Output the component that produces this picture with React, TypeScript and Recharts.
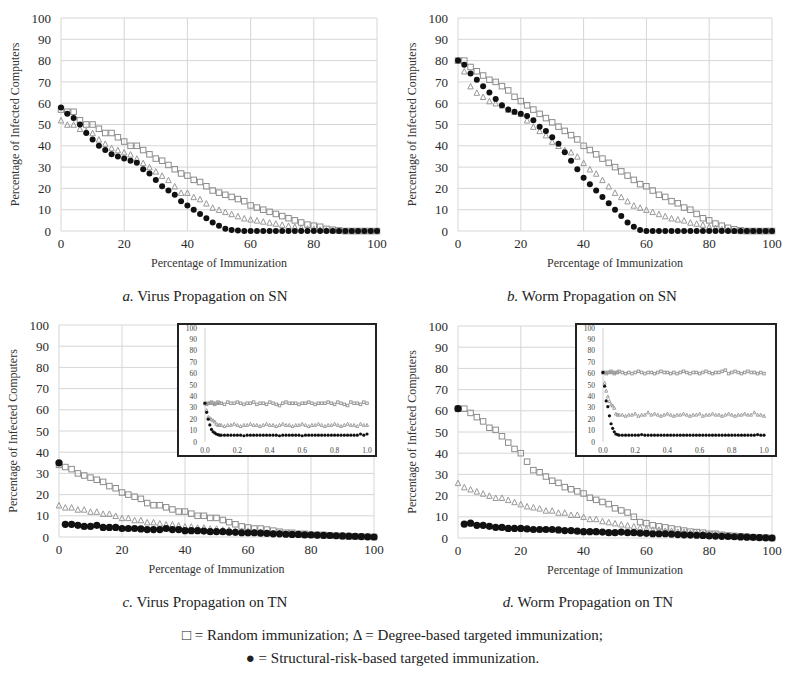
import { ScatterChart, Scatter, XAxis, YAxis, CartesianGrid } from 'recharts';

const FONT = '"Liberation Serif", "Times New Roman", serif';

// x positions, % of immunization
const IMMUNIZATION = [0, 2, 4, 6, 8, 10, 12, 14, 16, 18, 20, 22, 24, 26, 28, 30, 32, 34, 36, 38, 40, 42, 44, 46, 48, 50, 52, 54, 56, 58, 60, 62, 64, 66, 68, 70, 72, 74, 76, 78, 80, 82, 84, 86, 88, 90, 92, 94, 96, 98, 100];
const X_TICKS = [0, 20, 40, 60, 80, 100];
const Y_TICKS = [0, 10, 20, 30, 40, 50, 60, 70, 80, 90, 100];

// a. Virus propagation on SN
const A_RANDOM = [57, 56, 56, 52, 50, 50, 48, 46, 46, 44, 42, 40, 40, 38, 36, 34, 33, 31, 29, 27, 26, 24, 23, 21, 19, 18, 17, 16, 15, 14, 12, 11, 10, 9, 8, 7, 6, 5, 4, 3, 2.5, 2, 1, 0.6, 0.3, 0, 0, 0, 0, 0, 0];
const A_DEGREE = [52, 50, 50, 48, 47, 46, 43, 41, 39, 38, 37, 36, 34, 32, 30, 28, 26, 24, 21, 18, 18, 16, 15, 13, 11, 10, 9, 8, 7, 6, 5.5, 5, 4.5, 4, 3.5, 3, 2.5, 2, 1.5, 1.2, 1, 0.7, 0.5, 0.3, 0.1, 0, 0, 0, 0, 0, 0];
const A_STRUCT = [58, 55, 53, 50, 46, 43, 40, 38, 36, 35, 34, 33, 32, 29, 27, 24, 21, 19, 17, 14, 12, 10, 8, 6, 4, 2.5, 1, 0.5, 0.2, 0, 0, 0, 0, 0, 0, 0, 0, 0, 0, 0, 0, 0, 0, 0, 0, 0, 0, 0, 0, 0, 0];

// b. Worm propagation on SN
const B_RANDOM = [80, 80, 77, 75, 73, 71, 70, 68, 66, 63, 61, 59, 57, 55, 53, 51, 49, 47, 45, 43, 40, 38, 36, 34, 32, 30, 28, 26, 24, 22, 21, 19, 17, 16, 14, 13, 11, 10, 8, 6, 5, 3.5, 2.5, 1.5, 0.8, 0.3, 0, 0, 0, 0, 0];
const B_DEGREE = [80, 75, 68, 65, 63, 61, 60, 59, 57, 56, 55, 52, 49, 47, 45, 42, 40, 38, 37, 35, 32, 29, 27, 24, 21, 18, 16, 14, 12, 11, 10, 9, 8, 7, 6, 5.5, 5, 4, 3.5, 3, 2, 1.5, 1, 0.5, 0.2, 0, 0, 0, 0, 0, 0];
const B_STRUCT = [80, 78, 74, 71, 68, 65, 62, 59, 57, 56, 55, 54, 52, 49, 47, 44, 41, 37, 33, 29, 25, 22, 19, 16, 13, 10, 7, 4, 2, 0.5, 0, 0, 0, 0, 0, 0, 0, 0, 0, 0, 0, 0, 0, 0, 0, 0, 0, 0, 0, 0, 0];

// c. Virus propagation on TN
const C_RANDOM = [34, 33, 32, 30, 29, 28, 27, 26, 24, 23, 21, 20, 19, 18, 16, 15, 15, 14, 13, 12, 12, 11, 10, 10, 9, 9, 8, 7, 6, 5, 4.5, 4, 4, 3.5, 3, 2.5, 2, 2, 1.5, 1.5, 1, 1, 1, 0.8, 0.6, 0.5, 0.4, 0.3, 0.2, 0.1, 0];
const C_DEGREE = [15, 14, 14, 13, 13, 12, 12, 11, 11, 10, 9, 9, 8, 8, 7, 7, 6.5, 6, 6, 5.5, 5, 5, 4.5, 4.5, 4, 4, 3.5, 3.5, 3, 3, 3, 2.5, 2.5, 2, 2, 2, 1.5, 1.5, 1.2, 1, 1, 0.8, 0.7, 0.6, 0.5, 0.4, 0.3, 0.2, 0.2, 0.1, 0];
const C_STRUCT = [35, 6, 6, 5.5, 5, 5, 5.5, 4.5, 4.5, 4.5, 4, 4, 4, 3.8, 3.5, 3.5, 3.5, 4, 3.5, 3.5, 3, 3, 3, 2.8, 2.5, 2.5, 2.5, 2.3, 2.2, 2, 2, 2, 1.8, 1.7, 1.5, 1.5, 1.3, 1.2, 1.2, 1, 1, 0.9, 0.8, 0.7, 0.6, 0.5, 0.4, 0.3, 0.2, 0.1, 0];

// d. Worm propagation on TN
const D_RANDOM = [61, 61, 59, 57, 55, 52, 51, 48, 45, 42, 40, 36, 32, 31, 29, 27, 26, 24, 23, 22, 21, 19, 18, 17, 16, 14, 13, 12, 10, 7.5, 7, 6, 5.5, 5, 4.5, 4, 3.5, 3, 2.8, 2.5, 2, 2, 1.5, 1.2, 1, 0.8, 0.6, 0.4, 0.3, 0.2, 0];
const D_DEGREE = [26, 24, 23, 22, 21, 20, 19, 19, 18, 17, 16, 15, 14.5, 14, 13, 13, 12, 12, 11, 11, 10, 9, 9, 8, 7.5, 7, 6.5, 6, 5.5, 5, 4.5, 4, 4, 3.5, 3.5, 3, 3, 2.5, 2.5, 2, 2, 1.8, 1.5, 1.2, 1, 0.8, 0.6, 0.4, 0.3, 0.2, 0];
const D_STRUCT = [61, 6.5, 7, 6, 6, 5.5, 5, 5, 4.5, 4.5, 4.5, 4.3, 4, 4, 4, 4, 3.8, 3.5, 3.5, 3.2, 3, 3, 3, 2.8, 2.5, 2.5, 2.8, 2.5, 2.5, 2.3, 2.2, 2, 2, 2, 1.8, 1.6, 1.5, 1.4, 1.3, 1.2, 1, 0.9, 0.8, 0.7, 0.6, 0.5, 0.4, 0.3, 0.2, 0.1, 0];

// insets (0..1 scale), finer steps at the start
const INSET_X = [0, 0.01, 0.02, 0.03, 0.04, 0.05, 0.06, 0.07, 0.08, 0.09, 0.1, 0.12, 0.14, 0.16, 0.18, 0.2, 0.22, 0.24, 0.26, 0.28, 0.3, 0.32, 0.34, 0.36, 0.38, 0.4, 0.42, 0.44, 0.46, 0.48, 0.5, 0.52, 0.54, 0.56, 0.58, 0.6, 0.62, 0.64, 0.66, 0.68, 0.7, 0.72, 0.74, 0.76, 0.78, 0.8, 0.82, 0.84, 0.86, 0.88, 0.9, 0.92, 0.94, 0.96, 0.98, 1.0];
const INSET_X_TICKS = [0, 0.2, 0.4, 0.6, 0.8, 1.0];

const CI_RANDOM = [34, 33, 34, 34, 35, 34, 33, 34, 35, 34, 34, 33, 35, 34, 34, 35, 34, 33, 34, 34, 35, 33, 34, 34, 33, 35, 34, 33, 32, 34, 35, 34, 34, 34, 33, 34, 34, 35, 34, 33, 34, 34, 34, 35, 34, 33, 35, 34, 33, 32, 35, 34, 34, 33, 35, 34];
const CI_DEGREE = [34, 28, 22, 21, 20, 19, 18, 16, 15, 15, 15, 14, 15, 15, 16, 15, 14, 15, 15, 16, 15, 15, 14, 15, 16, 15, 15, 14, 15, 16, 15, 15, 14, 15, 15, 16, 15, 14, 15, 15, 16, 15, 14, 15, 15, 16, 15, 14, 15, 16, 15, 15, 14, 16, 15, 15];
const CI_STRUCT = [34, 26, 20, 15, 11, 9, 8, 7, 6.5, 6, 6, 6, 6, 6, 6, 6, 6, 5.5, 6, 6, 6, 6, 6, 6, 6, 6, 6, 6, 5.5, 6, 6, 6, 6, 6, 6, 5.5, 6, 6, 6, 6, 6, 6, 6, 6, 6, 6, 6, 6, 6, 6, 6, 6, 6, 7, 6, 7];

const DI_RANDOM = [61, 61, 60, 61, 61, 62, 61, 60, 61, 61, 62, 61, 60, 61, 60, 61, 62, 61, 60, 61, 61, 60, 61, 62, 61, 61, 60, 61, 60, 61, 62, 61, 60, 61, 61, 60, 61, 62, 61, 60, 61, 61, 62, 63, 60, 61, 62, 61, 60, 61, 62, 61, 61, 60, 61, 60];
const DI_DEGREE = [61, 52, 45, 40, 36, 33, 32, 30, 25, 24, 24, 24, 23, 24, 24, 25, 23, 24, 24, 26, 24, 25, 24, 23, 24, 25, 24, 23, 24, 24, 25, 24, 23, 24, 24, 25, 23, 24, 24, 25, 24, 24, 23, 24, 25, 24, 23, 24, 24, 25, 24, 24, 26, 24, 24, 23];
const DI_STRUCT = [61, 49, 36, 31, 23, 16, 12, 9, 7, 6.5, 6, 6, 6, 6, 6, 6, 6, 6.5, 6, 6, 6, 6, 6, 6, 6, 6, 6, 6, 6, 6, 6, 6, 6, 6, 6, 6, 6, 6, 6, 6, 6, 6, 6, 6, 6, 6, 6, 6, 6, 6, 6, 6, 6, 6.5, 6, 6];

const GREY = '#8c8c8c';

const pts = (xs: number[], ys: number[]) => xs.map((x, i) => ({ x, y: ys[i] }));

const makeSquare = (s: number, color: string) => (p: any) =>
  p.cx == null ? <g /> : <rect x={p.cx - s / 2} y={p.cy - s / 2} width={s} height={s} fill="none" stroke={color} strokeWidth={1} />;

const makeTriangle = (s: number, color: string) => (p: any) =>
  p.cx == null ? <g /> : (
    <path
      d={`M${p.cx},${p.cy - s / 2} L${p.cx + s / 2},${p.cy + s / 2} L${p.cx - s / 2},${p.cy + s / 2} Z`}
      fill="none"
      stroke={color}
      strokeWidth={1}
    />
  );

const makeDot = (r: number) => (p: any) =>
  p.cx == null ? <g /> : <circle cx={p.cx} cy={p.cy} r={r} fill="#111" />;

const mainSquare = makeSquare(5.5, GREY);
const mainTriangle = makeTriangle(5.5, '#999');
const mainDot = makeDot(3);
const bandDot = makeDot(3.6);
const insetSquare = makeSquare(2.5, '#9a9a9a');
const insetTriangle = makeTriangle(3, '#a0a0a0');
const insetDot = makeDot(1.6);

type PanelProps = {
  left: number; top: number; width: number; height: number;
  margin: { top: number; right: number; bottom: number; left: number };
  random: number[]; degree: number[]; struct: number[]; dense?: boolean;
};

function Panel({ left, top, width, height, margin, random, degree, struct, dense }: PanelProps) {
  const tick = { fill: '#2a2a2a', fontSize: 13 };
  return (
    <div style={{ position: 'absolute', left, top }}>
      <ScatterChart width={width} height={height} margin={margin}>
        <CartesianGrid stroke="#d6d6d6" />
        <XAxis
          type="number" dataKey="x" domain={[0, 100]} ticks={X_TICKS} interval={0}
          axisLine={false} tickLine={false} height={40} tickMargin={2} tick={tick}
          label={{ value: 'Percentage of Immunization', position: 'insideBottom', offset: 4, fill: '#333', fontSize: 12 }}
        />
        <YAxis
          type="number" dataKey="y" domain={[0, 100]} ticks={Y_TICKS} interval={0}
          axisLine={false} tickLine={false} width={46} tickMargin={4} tick={tick}
          label={{ value: 'Percentage of Infected Computers', angle: -90, position: 'insideLeft', offset: 0, fill: '#333', fontSize: 12, style: { textAnchor: 'middle' } }}
        />
        <Scatter data={pts(IMMUNIZATION, random)} shape={mainSquare} isAnimationActive={false} />
        <Scatter data={pts(IMMUNIZATION, degree)} shape={mainTriangle} isAnimationActive={false} />
        <Scatter data={pts(IMMUNIZATION, struct)} shape={dense ? bandDot : mainDot} isAnimationActive={false} />
      </ScatterChart>
    </div>
  );
}

type InsetProps = { left: number; top: number; width: number; height: number; right: number; random: number[]; degree: number[]; struct: number[] };

function Inset({ left, top, width, height, right, random, degree, struct }: InsetProps) {
  const tick = { fill: '#444', fontSize: 7.5 };
  return (
    <div style={{ position: 'absolute', left, top, width, height, border: '2px solid #222', background: '#fff' }}>
      <ScatterChart width={width} height={height} margin={{ top: 3, right, bottom: 0, left: 4 }}>
        <XAxis
          type="number" dataKey="x" domain={[0, 1]} ticks={INSET_X_TICKS} interval={0}
          tickFormatter={(v: number) => v.toFixed(1)}
          axisLine={false} tickLine={false} height={13} tickMargin={0} tick={tick}
        />
        <YAxis
          type="number" dataKey="y" domain={[0, 100]} ticks={Y_TICKS} interval={0}
          axisLine={{ stroke: '#d0d0d0' }} tickLine={false} width={22} tickMargin={2} tick={tick}
        />
        <Scatter data={pts(INSET_X, random)} shape={insetSquare} isAnimationActive={false} />
        <Scatter data={pts(INSET_X, degree)} shape={insetTriangle} isAnimationActive={false} />
        <Scatter data={pts(INSET_X, struct)} shape={insetDot} isAnimationActive={false} />
      </ScatterChart>
    </div>
  );
}

function Caption({ left, top, width, letter, text }: { left: number; top: number; width: number; letter: string; text: string }) {
  return (
    <div style={{ position: 'absolute', left, top, width, textAlign: 'center', fontSize: 15, color: '#222' }}>
      <i>{letter}.</i> {text}
    </div>
  );
}

export default function App() {
  return (
    <div style={{ position: 'absolute', left: 0, top: 0, width: 785, height: 680, background: '#fff', fontFamily: FONT }}>
      <style>{`svg text, .recharts-text { font-family: ${FONT} !important; }`}</style>
      <Panel left={0} top={0} width={390} height={280} margin={{ top: 18, right: 13, bottom: 9, left: 15 }}
        random={A_RANDOM} degree={A_DEGREE} struct={A_STRUCT} />
      <Panel left={390} top={0} width={395} height={280} margin={{ top: 18, right: 13, bottom: 9, left: 22 }}
        random={B_RANDOM} degree={B_DEGREE} struct={B_STRUCT} />
      <Panel left={0} top={310} width={390} height={280} margin={{ top: 15, right: 16, bottom: 13, left: 13 }}
        random={C_RANDOM} degree={C_DEGREE} struct={C_STRUCT} dense />
      <Panel left={390} top={310} width={395} height={280} margin={{ top: 16, right: 13, bottom: 12, left: 22 }}
        random={D_RANDOM} degree={D_DEGREE} struct={D_STRUCT} dense />

      <Inset left={177} top={323} width={196} height={130} right={8}
        random={CI_RANDOM} degree={CI_DEGREE} struct={CI_STRUCT} />
      <Inset left={575} top={323} width={198} height={130} right={11}
        random={DI_RANDOM} degree={DI_DEGREE} struct={DI_STRUCT} />

      <Caption left={0} top={288} width={410} letter="a" text="Virus Propagation on SN" />
      <Caption left={392} top={288} width={400} letter="b" text="Worm Propagation on SN" />
      <Caption left={0} top={594} width={410} letter="c" text="Virus Propagation on TN" />
      <Caption left={388} top={594} width={400} letter="d" text="Worm Propagation on TN" />

      <div style={{ position: 'absolute', left: 0, top: 627, width: 785, textAlign: 'center', fontSize: 15, color: '#222' }}>
        □ = Random immunization; Δ = Degree-based targeted immunization;
      </div>
      <div style={{ position: 'absolute', left: 0, top: 650, width: 785, textAlign: 'center', fontSize: 15, color: '#222' }}>
        ● = Structural-risk-based targeted immunization.
      </div>
    </div>
  );
}
